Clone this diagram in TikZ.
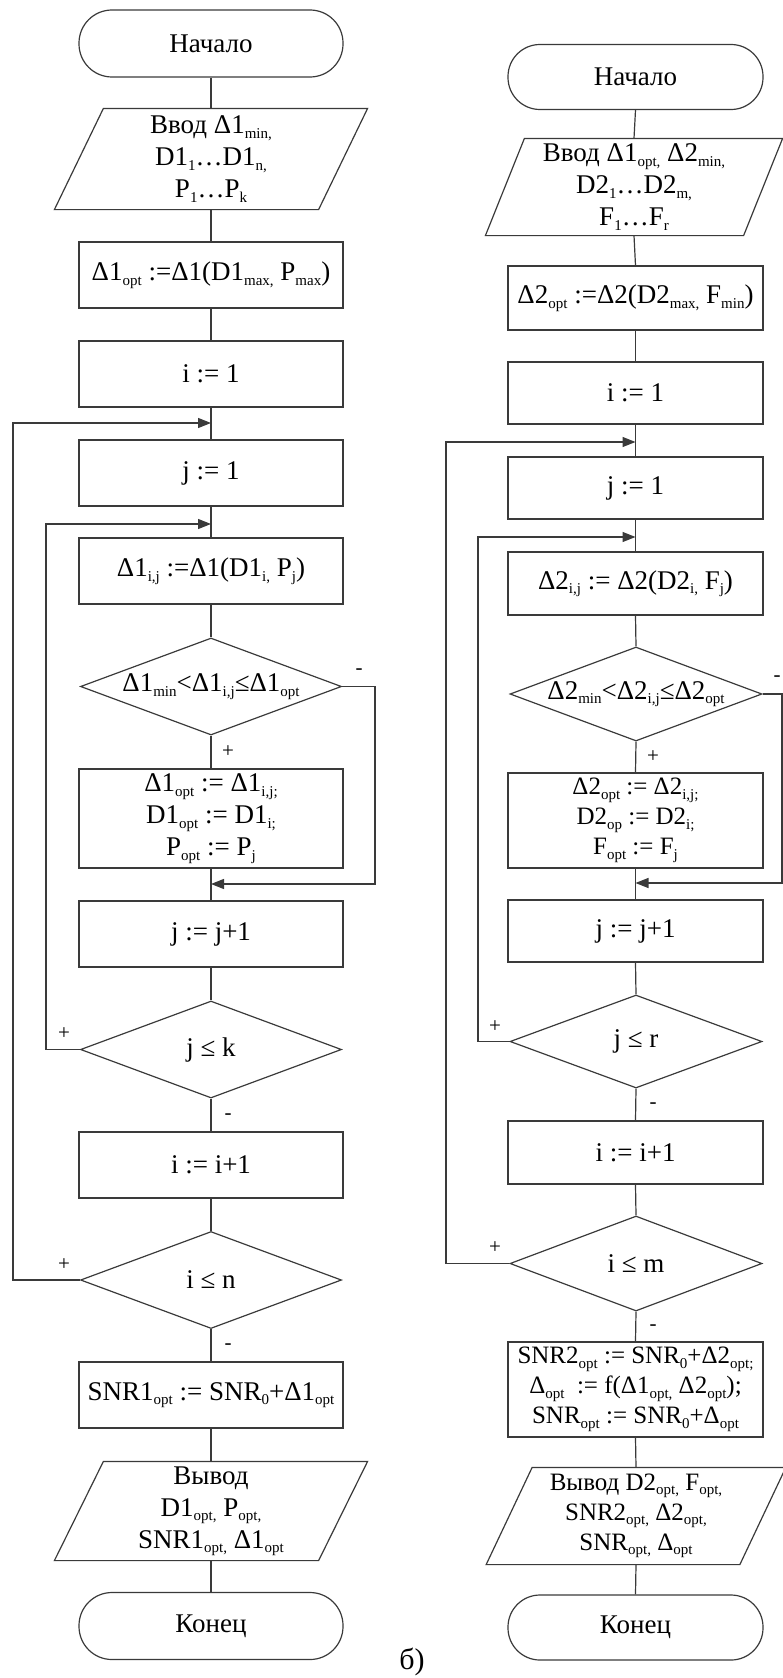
\documentclass[tikz,border=0pt]{standalone}
\usepackage{fontspec}
\setmainfont{Liberation Serif}
\usetikzlibrary{shapes.geometric,arrows.meta}
\definecolor{lc}{HTML}{3A3A3A}
\newcommand\fsz{\fontsize{27}{32}\selectfont}
\newcommand\fsm{\fontsize{25}{30}\selectfont}
\newcommand\sbx[1]{\raisebox{-4.5pt}{\fontsize{15}{15}\selectfont #1}}
\begin{document}
\begin{tikzpicture}[x=1pt,y=-1pt,
  base/.style={draw=lc, line width=1.2pt, font=\fsz, align=center, inner sep=0pt, text=black},
  procL/.style={base, rectangle, minimum width=264, minimum height=#1},
  procL/.default=66,
  procR/.style={base, rectangle, minimum width=255, minimum height=#1},
  procR/.default=63,
  termL/.style={procL=67, rounded corners=33pt},
  termR/.style={procR=65, rounded corners=32pt},
  ioL/.style={base, draw=none, rectangle, minimum width=263, minimum height=#1},
  ioR/.style={base, draw=none, rectangle, minimum width=#1, minimum height=96},
  decL/.style={base, diamond, minimum width=261, minimum height=97},
  decR/.style={base, diamond, minimum width=252, minimum height=#1},
  decR/.default=94,
  dtext/.style={font=\fsz, inner sep=0pt},
  lbl/.style={font=\fontsize{21}{21}\selectfont, inner sep=0pt},
  conn/.style={draw=lc, line width=1.2pt},
  arr/.style={conn, -{Triangle[length=13pt,width=10pt]}}
]
\useasboundingbox (0,0) rectangle (783,1678);

% ---------------- left column ----------------
\node[termL] (ls) at (211,43.5) {Начало};
\node[ioL=100] (lin) at (211,159) {Ввод Δ1\sbx{min,}\\D1\sbx{1}…D1\sbx{n,}\\P\sbx{1}…P\sbx{k}};
\draw[conn] ([xshift=24.5pt]lin.north west) -- ([xshift=24.5pt]lin.north east)
  -- ([xshift=-24.5pt]lin.south east) -- ([xshift=-24.5pt]lin.south west) -- cycle;
\node[procL] (lb1) at (211,275) {Δ1\sbx{opt} :=Δ1(D1\sbx{max,} P\sbx{max})};
\node[procL] (lb2) at (211,374) {i := 1};
\node[procL] (lb3) at (211,473) {j := 1};
\node[procL] (lb4) at (211,571) {Δ1\sbx{i,j} :=Δ1(D1\sbx{i,} P\sbx{j})};
\node[decL] (ld1) at (211,686.5) {};
\node[dtext] (ld1t) at (211,686.5) {Δ1\sbx{min}<Δ1\sbx{i,j}≤Δ1\sbx{opt}};
\node[procL=99] (lb5) at (211,818.5) {Δ1\sbx{opt} := Δ1\sbx{i,j;}\\D1\sbx{opt} := D1\sbx{i;}\\P\sbx{opt} := P\sbx{j}};
\node[procL] (lb6) at (211,934) {j := j+1};
\node[decL] (ld2) at (211,1049.5) {};
\node[dtext] (ld2t) at (211,1049.5) {j ≤ k};
\node[procL] (lb7) at (211,1165) {i := i+1};
\node[decL] (ld3) at (211,1280) {};
\node[dtext] (ld3t) at (211,1280) {i ≤ n};
\node[procL] (lb8) at (211,1395) {SNR1\sbx{opt} := SNR\sbx{0}+Δ1\sbx{opt}};
\node[ioL=98] (lout) at (211,1511) {Вывод\\D1\sbx{opt,} P\sbx{opt,}\\SNR1\sbx{opt,} Δ1\sbx{opt}};
\draw[conn] ([xshift=24.5pt]lout.north west) -- ([xshift=24.5pt]lout.north east)
  -- ([xshift=-24.5pt]lout.south east) -- ([xshift=-24.5pt]lout.south west) -- cycle;
\node[termL] (le) at (211,1626) {Конец};

\coordinate (ljn1) at (211,423);
\coordinate (ljn2) at (211,524);
\coordinate (ljn3) at (211,884);
\coordinate (llx1) at (13,423);
\coordinate (llx2) at (46,524);
\coordinate (lrx1) at (375,884);

\draw[conn] (ls.south) -- (lin.north);
\draw[conn] (lin.south) -- (lb1.north);
\draw[conn] (lb1.south) -- (lb2.north);
\draw[conn] (lb2.south) -- (lb3.north);
\draw[conn] (lb3.south) -- (lb4.north);
\draw[conn] (lb4.south) -- (ld1.north);
\draw[conn] (ld1.south) -- (lb5.north);
\draw[conn] (lb5.south) -- (lb6.north);
\draw[conn] (lb6.south) -- (ld2.north);
\draw[conn] (ld2.south) -- (lb7.north);
\draw[conn] (lb7.south) -- (ld3.north);
\draw[conn] (ld3.south) -- (lb8.north);
\draw[conn] (lb8.south) -- (lout.north);
\draw[conn] (lout.south) -- (le.north);
\draw[arr] (ld3.west) -| (llx1) -- (ljn1);
\draw[arr] (ld2.west) -| (llx2) -- (ljn2);
\draw[arr] (ld1.east) -| (lrx1) -- (ljn3);

\node[lbl] (ll1) at (359,672) {-};
\node[lbl] (ll2) at (228,752) {+};
\node[lbl] (ll3) at (64,1034) {+};
\node[lbl] (ll4) at (228,1117) {-};
\node[lbl] (ll5) at (64,1265) {+};
\node[lbl] (ll6) at (228,1347) {-};

% ---------------- right column ----------------
\node[termR] (rs) at (635.5,77) {Начало};
\node[ioR=257] (rin) at (634,187) {Ввод Δ1\sbx{opt,} Δ2\sbx{min,}\\D2\sbx{1}…D2\sbx{m,}\\F\sbx{1}…F\sbx{r}};
\draw[conn] ([xshift=19.5pt]rin.north west) -- ([xshift=19.5pt]rin.north east)
  -- ([xshift=-19.5pt]rin.south east) -- ([xshift=-19.5pt]rin.south west) -- cycle;
\node[procR=64] (rb1) at (635.5,298) {Δ2\sbx{opt} :=Δ2(D2\sbx{max,} F\sbx{min})};
\node[procR=62] (rb2) at (635.5,393) {i := 1};
\node[procR=62] (rb3) at (635.5,488) {j := 1};
\node[procR] (rb4) at (635.5,583.5) {Δ2\sbx{i,j} := Δ2(D2\sbx{i,} F\sbx{j})};
\node[decR] (rd1) at (636,694) {};
\node[dtext] (rd1t) at (636,694) {Δ2\sbx{min}<Δ2\sbx{i,j}≤Δ2\sbx{opt}};
\node[procR=95, font=\fsm] (rb5) at (635.5,820.5) {Δ2\sbx{opt} := Δ2\sbx{i,j;}\\D2\sbx{op} := D2\sbx{i;}\\F\sbx{opt} := F\sbx{j}};
\node[procR=62] (rb6) at (635.5,931) {j := j+1};
\node[decR=93] (rd2) at (636,1041.5) {};
\node[dtext] (rd2t) at (636,1041.5) {j ≤ r};
\node[procR] (rb7) at (635.5,1152.5) {i := i+1};
\node[decR=95] (rd3) at (636,1263.5) {};
\node[dtext] (rd3t) at (636,1263.5) {i ≤ m};
\node[procR=95, font=\fsm] (rb8) at (635.5,1389.5) {SNR2\sbx{opt} := SNR\sbx{0}+Δ2\sbx{opt;}\\Δ\sbx{opt} \ := f(Δ1\sbx{opt,} Δ2\sbx{opt});\\SNR\sbx{opt} := SNR\sbx{0}+Δ\sbx{opt}};
\node[ioR=252.5, font=\fsm] (rout) at (636,1516) {Вывод D2\sbx{opt,} F\sbx{opt,}\\SNR2\sbx{opt,} Δ2\sbx{opt,}\\SNR\sbx{opt,} Δ\sbx{opt}};
\draw[conn] ([xshift=23pt]rout.north west) -- ([xshift=23pt]rout.north east)
  -- ([xshift=-23pt]rout.south east) -- ([xshift=-23pt]rout.south west) -- cycle;
\node[termR] (re) at (635.5,1627.5) {Конец};

\coordinate (rjn1) at (635.5,442);
\coordinate (rjn2) at (635.5,537);
\coordinate (rjn3) at (635.5,883);
\coordinate (rlx1) at (446,442);
\coordinate (rlx2) at (478,537);
\coordinate (rrx1) at (782,883);

\draw[conn] (rs.south) -- (rin.north);
\draw[conn] (rin.south) -- (rb1.north);
\draw[conn] (rb1.south) -- (rb2.north);
\draw[conn] (rb2.south) -- (rb3.north);
\draw[conn] (rb3.south) -- (rb4.north);
\draw[conn] (rb4.south) -- (rd1.north);
\draw[conn] (rd1.south) -- (rb5.north);
\draw[conn] (rb5.south) -- (rb6.north);
\draw[conn] (rb6.south) -- (rd2.north);
\draw[conn] (rd2.south) -- (rb7.north);
\draw[conn] (rb7.south) -- (rd3.north);
\draw[conn] (rd3.south) -- (rb8.north);
\draw[conn] (rb8.south) -- (rout.north);
\draw[conn] (rout.south) -- (re.north);
\draw[arr] (rd3.west) -| (rlx1) -- (rjn1);
\draw[arr] (rd2.west) -| (rlx2) -- (rjn2);
\draw[arr] (rd1.east) -| (rrx1) -- (rjn3);

\node[lbl] (rl1) at (777,679) {-};
\node[lbl] (rl2) at (653,757) {+};
\node[lbl] (rl3) at (495,1027) {+};
\node[lbl] (rl4) at (653,1106) {-};
\node[lbl] (rl5) at (495,1248) {+};
\node[lbl] (rl6) at (653,1328) {-};

\node[font=\fontsize{30}{30}\selectfont, inner sep=0pt, anchor=base] (cap) at (412,1669) {б)};
\end{tikzpicture}
\end{document}
